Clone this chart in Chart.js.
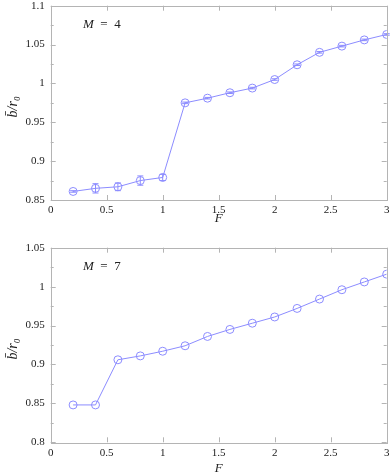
<!DOCTYPE html>
<html><head><meta charset="utf-8">
<script src="https://cdn.jsdelivr.net/npm/chart.js@4.4.1/dist/chart.umd.min.js"></script>
<style>
html,body{margin:0;padding:0;background:#fff;}
#w1{position:absolute;left:0;top:0;width:392px;height:232px;}
#w2{position:absolute;left:0;top:232px;width:392px;height:242px;}
</style></head><body>
<div id="w1"><canvas id="c1"></canvas></div>
<div id="w2"><canvas id="c2"></canvas></div>
<script>
const F = [0.2,0.4,0.6,0.8,1.0,1.2,1.4,1.6,1.8,2.0,2.2,2.4,2.6,2.8,3.0];
const bM4 = [0.861,0.865,0.867,0.875,0.879,0.975,0.981,0.988,0.994,1.005,1.024,1.040,1.048,1.056,1.063];
const errM4 = [0.001,0.006,0.005,0.006,0.004,0.001,0.001,0.001,0.001,0.001,0.001,0.001,0.001,0.001,0.001];
const bM7 = [0.848,0.848,0.906,0.911,0.917,0.924,0.936,0.945,0.953,0.961,0.972,0.984,0.996,1.006,1.016];
const errM7 = [0,0,0,0,0,0,0,0,0,0,0,0,0,0,0];
const xTicks = [0,0.5,1,1.5,2,2.5,3];
const yTicksM4 = [0.85,0.9,0.95,1,1.05,1.1];
const yTicksM7 = [0.8,0.85,0.9,0.95,1,1.05];

const LINE = '#8c8cff';
const FRAME = '#b4b4b4';
const FONT = '"Liberation Serif", "DejaVu Serif", serif';

const decor = {
  id:'decor',
  afterDatasetsDraw(chart, args, o){
    const ctx = chart.ctx, a = chart.chartArea, xs = chart.scales.x, ys = chart.scales.y;
    ctx.save();
    // error bars
    ctx.strokeStyle = LINE; ctx.lineWidth = 1;
    o.err.forEach((e,i)=>{
      if(e<=0) return;
      const px = xs.getPixelForValue(o.xv[i]);
      const p1 = ys.getPixelForValue(o.yv[i]-e), p2 = ys.getPixelForValue(o.yv[i]+e);
      ctx.beginPath();
      ctx.moveTo(px,p1);ctx.lineTo(px,p2);
      ctx.moveTo(px-3,p1);ctx.lineTo(px+3,p1);
      ctx.moveTo(px-3,p2);ctx.lineTo(px+3,p2);
      ctx.stroke();
    });
    // frame
    ctx.strokeStyle = FRAME; ctx.lineWidth = 1;
    ctx.strokeRect(Math.round(a.left)+0.5, Math.round(a.top)+0.5, Math.round(a.right-a.left), Math.round(a.bottom-a.top));
    // ticks
    ctx.beginPath();
    xTicks.forEach(v=>{
      const p = Math.round(xs.getPixelForValue(v))+0.5;
      ctx.moveTo(p,a.bottom);ctx.lineTo(p,a.bottom-5);
      ctx.moveTo(p,a.top);ctx.lineTo(p,a.top+5);
    });
    const ymin = ys.min, ymax = ys.max;
    for(let k=0;k<=10;k++){
      const v = ymin + k*(ymax-ymin)/10;
      const p = Math.round(ys.getPixelForValue(v))+0.5;
      const len = (k%2===0)?5:3;
      ctx.moveTo(a.left,p);ctx.lineTo(a.left+len,p);
      ctx.moveTo(a.right,p);ctx.lineTo(a.right-len,p);
    }
    ctx.stroke();
    // annotation
    ctx.fillStyle = '#222';
    ctx.textBaseline = 'middle';
    ctx.font = 'italic 13px '+FONT;
    ctx.textAlign = 'left';
    const tx = 83, ty = a.top + o.annDy;
    ctx.fillText('M', tx, ty);
    const mw = ctx.measureText('M').width;
    ctx.font = '13px '+FONT;
    ctx.fillText('\u2009=\u2009'.replace(/\u2009/g,'\u2002') + o.m, tx+mw, ty);
    // x title
    ctx.font = 'italic 13px '+FONT;
    ctx.textAlign = 'center';
    ctx.fillText('F', (a.left+a.right)/2, a.bottom + o.xtDy);
    // y title
    ctx.save();
    ctx.translate(13, (a.top+a.bottom)/2 + 4);
    ctx.rotate(-Math.PI/2);
    ctx.font = 'italic 14px '+FONT;
    ctx.textAlign = 'center';
    ctx.fillText('b\u0304/r\u2080', 0, 0);
    ctx.restore();
    ctx.restore();
  }
};

function make(id, yv, err, yTicks, m, padTop, xH, annDy, xtDy){
  const ymin = yTicks[0], ymax = yTicks[yTicks.length-1];
  return new Chart(document.getElementById(id), {
    type:'scatter',
    data:{datasets:[{
      data: F.map((f,i)=>({x:f,y:yv[i]})),
      showLine:true, borderColor:LINE, borderWidth:1,
      pointRadius:4, pointBorderColor:LINE, pointBackgroundColor:'rgba(0,0,0,0)', pointBorderWidth:1
    }]},
    options:{
      responsive:true, maintainAspectRatio:false, animation:false,
      layout:{padding:{top:padTop,right:5.3,left:0,bottom:0}},
      plugins:{legend:{display:false}, tooltip:{enabled:false}, decor:{err, xv:F, yv, m, annDy, xtDy}},
      scales:{
        x:{type:'linear', min:0, max:3,
          afterBuildTicks(s){ s.ticks = xTicks.map(v=>({value:v})); },
          afterFit(s){ s.height = xH; s.paddingLeft=0; s.paddingRight=0; },
          grid:{display:false, drawTicks:false, tickLength:0}, border:{display:false},
          ticks:{color:'#222', padding:4, font:{family:FONT,size:11}, maxRotation:0,
            callback:v=>String(v)}},
        y:{type:'linear', min:ymin, max:ymax,
          afterBuildTicks(s){ s.ticks = yTicks.map(v=>({value:v})); },
          afterFit(s){ s.width = 50.7; s.paddingTop=0; s.paddingBottom=0; },
          grid:{display:false, drawTicks:false, tickLength:0}, border:{display:false},
          ticks:{color:'#222', padding:6, font:{family:FONT,size:11},
            callback:v=>String(parseFloat(v.toFixed(2)))}}
      }
    },
    plugins:[decor]
  });
}
make('c1', bM4, errM4, yTicksM4, 4, 5.7, 32, 19, 19);
make('c2', bM7, errM7, yTicksM7, 7, 15.7, 31.7, 19, 26);
</script>
</body></html>
